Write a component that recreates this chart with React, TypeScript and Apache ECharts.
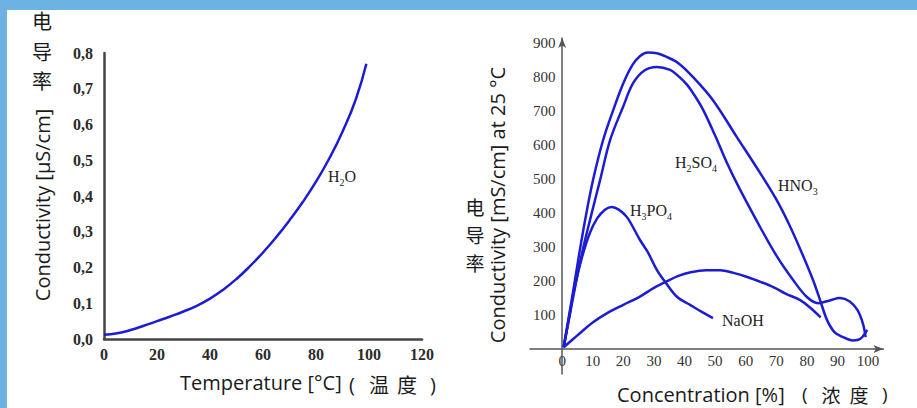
import React, { useEffect, useRef } from "react";
import * as echarts from "echarts";

// ---- Left chart: conductivity of water vs temperature ----
const tempC = [0, 5, 10, 15, 20, 25, 30, 35, 40, 45, 50, 55, 60, 65, 70, 75, 80, 85, 90, 95, 99];
const h2oCond = [0.012, 0.016, 0.025, 0.037, 0.05, 0.063, 0.077, 0.093, 0.113, 0.138, 0.168, 0.203, 0.242, 0.285, 0.332, 0.383, 0.44, 0.505, 0.58, 0.67, 0.77];
const tempTicks = [0, 20, 40, 60, 80, 100, 120];

// ---- Right chart: conductivity vs concentration ([%, mS/cm]) ----
const hno3 = [
  [0.5, 5], [2, 85], [3.6, 170], [5.5, 275], [7.5, 379], [10.1, 497], [13.4, 615], [16.7, 703], [20, 782],
  [23, 836], [25.5, 862], [28, 872], [31, 870], [34, 860], [38, 841], [42.8, 800], [49.3, 732], [57, 625],
  [64.7, 518], [70, 440], [74, 370], [78, 290], [82, 203], [84.3, 144], [86.6, 85], [89, 50], [91.8, 35],
  [95, 25], [97.5, 30], [99.7, 56],
];
const h2so4 = [
  [0.5, 5], [2.4, 95], [4.4, 190], [6.7, 290], [9.2, 383], [12.4, 497], [15.7, 615], [19.9, 712], [23.2, 782],
  [27, 820], [31, 830], [35.3, 821], [38, 803], [40.8, 778], [43, 750], [46, 705], [50, 628], [54, 545],
  [58.2, 468], [64.7, 359], [70.3, 271], [75.5, 203], [80, 153], [83.7, 135], [87.5, 143],
  [90.8, 150], [94, 140], [96.5, 115], [98.3, 75], [99.2, 35],
];
const h3po4 = [
  [0.5, 5], [2.3, 95], [4.3, 190], [6.5, 270], [9, 340], [11.5, 385], [14, 410], [16.3, 418], [18.5, 410],
  [21.2, 388], [25.5, 320], [28, 285], [31, 232], [33.7, 197], [37.6, 153], [41.8, 130], [45.5, 110],
  [49.3, 91],
];
const naoh = [
  [0.5, 5], [5, 40], [10, 78], [15, 107], [20, 130], [25, 152], [30, 180], [33.7, 197], [38, 215],
  [42, 226], [47, 232], [51.6, 232], [56, 224], [60.5, 212], [65, 197], [69, 182], [73, 163],
  [77.8, 144], [81, 122], [84.5, 93],
];
const concTicks = [0, 10, 20, 30, 40, 50, 60, 70, 80, 90, 100];
const condTicks = [100, 200, 300, 400, 500, 600, 700, 800, 900];

// curve labels: [text, isSubscript] pieces
const labelH2O: [string, boolean][] = [["H", false], ["2", true], ["O", false]];
const labelH2SO4: [string, boolean][] = [["H", false], ["2", true], ["SO", false], ["4", true]];
const labelHNO3: [string, boolean][] = [["HNO", false], ["3", true]];
const labelH3PO4: [string, boolean][] = [["H", false], ["3", true], ["PO", false], ["4", true]];
const labelNaOH: [string, boolean][] = [["NaOH", false]];

const SERIF = "Liberation Serif";
const SANS = "Open Sans";
const CJK = "Noto Sans CJK SC";
const LINE = "#1c1cd2";
const TXT = "#1a1a1a";
const MAIN_SIZE = 16;
const SUB_SIZE = 10;

let measureCtx: CanvasRenderingContext2D | null = null;
function measure(text: string, size: number) {
  if (!measureCtx) measureCtx = document.createElement("canvas").getContext("2d");
  measureCtx!.font = `${size}px "${SERIF}"`;
  return measureCtx!.measureText(text).width;
}

function chem(parts: [string, boolean][], x: number, y: number) {
  const out: any[] = [];
  let cx = x;
  for (const [t, sub] of parts) {
    const size = sub ? SUB_SIZE : MAIN_SIZE;
    out.push({
      type: "text", x: cx, y: sub ? y + 6 : y, z: 50,
      style: { text: t, fontSize: size, fontFamily: SERIF, fill: "#222", align: "left", verticalAlign: "middle" },
    });
    cx += measure(t, size);
  }
  return out;
}
function txt(text: string, x: number, y: number, size: number, family: string, align = "left", extra: any = {}) {
  return {
    type: "text", x, y, z: 50, ...extra,
    style: { text, fontSize: size, fontFamily: family, fill: TXT, align, verticalAlign: "middle" },
  };
}

export default function App() {
  const ref = useRef<HTMLDivElement>(null);
  useEffect(() => {
    const chart = echarts.init(ref.current!, null, { renderer: "svg" });
    const lineSeries = (data: any, xi: number, smooth: number) => ({
      type: "line", xAxisIndex: xi, yAxisIndex: xi, data, smooth, showSymbol: false,
      lineStyle: { color: LINE, width: 2.5 }, itemStyle: { color: LINE }, silent: true,
    });
    chart.setOption({
      animation: false,
      backgroundColor: "#ffffff",
      grid: [
        { left: 104, top: 53, width: 318, height: 286 },
        { left: 530, top: 38, width: 353.4, height: 336 },
      ],
      xAxis: [
        {
          gridIndex: 0, type: "value", min: 0, max: 120, interval: 20,
          axisLine: { lineStyle: { color: "#444", width: 2.5 } },
          axisTick: { show: false }, splitLine: { show: false },
          axisLabel: { margin: 7, fontFamily: SERIF, fontSize: 16, fontWeight: "bold", color: "#2a2a2a", customValues: tempTicks },
        },
        {
          gridIndex: 1, type: "value", min: -10.5, max: 105,
          axisLine: { symbol: ["none", "arrow"], symbolSize: [6, 10], lineStyle: { color: "#555", width: 1.5 } },
          axisTick: { show: false }, splitLine: { show: false },
          axisLabel: { inside: true, margin: 6, fontFamily: SERIF, fontSize: 15, color: "#333", customValues: concTicks },
        },
      ],
      yAxis: [
        {
          gridIndex: 0, type: "value", min: 0, max: 0.8, interval: 0.1,
          axisLine: { show: true, lineStyle: { color: "#444", width: 2.5 } },
          axisTick: { show: false }, splitLine: { show: false },
          axisLabel: {
            margin: 11, fontFamily: SERIF, fontSize: 16, fontWeight: "bold", color: "#2a2a2a",
            formatter: (v: number) => v.toFixed(1).replace(".", ","),
          },
        },
        {
          gridIndex: 1, type: "value", min: -73.5, max: 915,
          axisLine: { show: true, symbol: ["none", "arrow"], symbolSize: [6, 10], lineStyle: { color: "#555", width: 1.5 } },
          axisTick: { show: false }, splitLine: { show: false },
          axisLabel: { inside: true, margin: 3, fontFamily: SERIF, fontSize: 15, color: "#333", customValues: condTicks },
        },
      ],
      series: [
        lineSeries(tempC.map((t, i) => [t, h2oCond[i]]), 0, 0.5),
        lineSeries(hno3, 1, 0.35),
        lineSeries(h2so4, 1, 0.35),
        lineSeries(h3po4, 1, 0.35),
        lineSeries(naoh, 1, 0.35),
      ],
      graphic: [
        { type: "rect", z: 0, shape: { x: 0, y: 0, width: 917, height: 10 }, style: { fill: "#6cb3e3" } },
        { type: "rect", z: 0, shape: { x: 0, y: 0, width: 7, height: 408 }, style: { fill: "#6cb3e3" } },
        // left axis titles
        txt("电", 42, 20, 20, CJK, "center"),
        txt("导", 42, 51, 20, CJK, "center"),
        txt("率", 42, 80, 20, CJK, "center"),
        txt("Conductivity [μS/cm]", 42, 205, 20, SANS, "center", { rotation: Math.PI / 2 }),
        txt("Temperature [°C]", 180, 382, 20, SANS),
        txt("(", 349, 384, 20, SANS),
        txt("温", 379, 384, 20, CJK, "center"),
        txt("度", 407, 384, 20, CJK, "center"),
        txt(")", 430, 384, 20, SANS),
        // right axis titles
        txt("电", 475, 206, 19, CJK, "center"),
        txt("导", 475, 234, 19, CJK, "center"),
        txt("率", 475, 262, 19, CJK, "center"),
        txt("Conductivity [mS/cm] at 25 °C", 497, 205, 20, SANS, "center", { rotation: Math.PI / 2 }),
        txt("Concentration [%]", 617, 394, 20, SANS),
        txt("(", 802, 394, 19, SANS),
        txt("浓", 831, 394, 19, CJK, "center"),
        txt("度", 859, 394, 19, CJK, "center"),
        txt(")", 882, 394, 19, SANS),
        // curve labels
        ...chem(labelH2O, 328, 176),
        ...chem(labelH2SO4, 675, 162),
        ...chem(labelHNO3, 778, 185),
        ...chem(labelH3PO4, 630, 210),
        ...chem(labelNaOH, 722, 320),
      ],
    });
    return () => chart.dispose();
  }, []);
  return <div ref={ref} style={{ position: "fixed", left: 0, top: 0, width: 917, height: 408 }} />;
}
